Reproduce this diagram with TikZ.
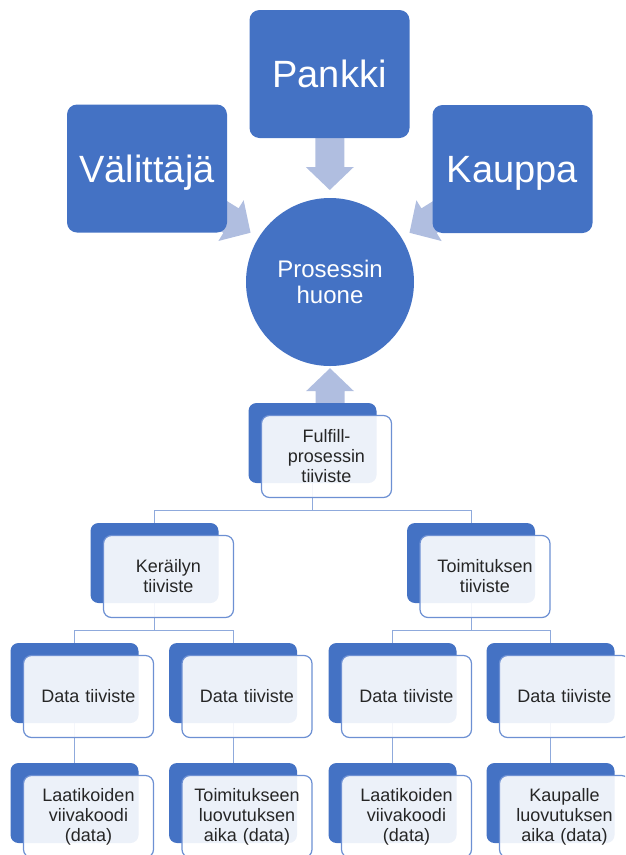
\documentclass[tikz,border=0pt]{standalone}
\usepackage{fontspec}
\setmainfont{Liberation Sans}
\usetikzlibrary{calc}
\pgfdeclarelayer{background}
\pgfsetlayers{background,main}
\definecolor{accent}{RGB}{68,114,196}
\definecolor{arrowtint}{RGB}{176,190,224}
\definecolor{edgeblue}{RGB}{109,144,211}
\definecolor{linkblue}{RGB}{143,170,220}
\definecolor{inktext}{RGB}{38,38,38}
% a dark back card with a lighter, slightly see-through card offset on top of it
\newcommand\pairbox[3]{%
  \node[backbox] (#1B) at (#2) {};
  \node[frontbox] (#1F) at ([shift={(14,13.5)}]#1B.center) {#3};}
% a wide block arrow whose tip sits at #1, pointing in direction #2
\newcommand\blockarrow[2]{%
  \fill[arrowtint, shift={(#1)}, rotate=#2]
    (0,0) -- (-23,24) -- (-23,14.5) -- (-63,14.5) -- (-63,-14.5)
    -- (-23,-14.5) -- (-23,-24) -- cycle;}
\begin{document}
\begin{tikzpicture}[x=1pt,y=-1pt,
  backbox/.style={fill=accent, rounded corners=8pt, minimum width=128pt,
    minimum height=80pt, inner sep=0pt},
  frontbox/.style={draw=edgeblue, line width=1.2pt, fill=white,
    fill opacity=0.9, text opacity=1, rounded corners=8pt,
    minimum width=130pt, minimum height=82pt, inner sep=0pt,
    text width=124pt, align=center, text=inktext,
    font=\fontsize{18}{20}\selectfont},
  topbox/.style={fill=accent, rounded corners=10pt, minimum width=160pt,
    minimum height=128pt, inner sep=0pt, text=white,
    font=\fontsize{38}{44}\selectfont, text height=27pt, text depth=0pt},
  room/.style={circle, fill=accent, minimum size=168pt, inner sep=0pt,
    text=white, align=center, font=\fontsize{24}{26}\selectfont},
  conn/.style={draw=linkblue, line width=1pt}]
\path[use as bounding box] (0,0) rectangle (625,855);
\clip (0,0) rectangle (625,855);

% parties around the process room
\node[topbox] (va) at (147,168.5) {Välittäjä};
\node[topbox] (pk) at (329.5,74) {Pankki};
\node[topbox] (ka) at (512.5,169) {Kauppa};
\node[room] (hub) at (330,282) {Prosessin\\huone};

% hierarchy of seals
\pairbox{ful}{312.5,443}{Fulfill-\\prosessin\\tiiviste}
\pairbox{ker}{154.5,563}{Keräilyn\\tiiviste}
\pairbox{toi}{471,563}{Toimituksen\\tiiviste}
\pairbox{da}{74.5,683}{Data tiiviste}
\pairbox{db}{233,683}{Data tiiviste}
\pairbox{dc}{392.5,683}{Data tiiviste}
\pairbox{dd}{550.5,683}{Data tiiviste}
\pairbox{ea}{74.5,803}{Laatikoiden\\viivakoodi\\(data)}
\pairbox{eb}{233,803}{Toimitukseen\\luovutuksen\\aika (data)}
\pairbox{ec}{392.5,803}{Laatikoiden\\viivakoodi\\(data)}
\pairbox{ed}{550.5,803}{Kaupalle\\luovutuksen\\aika (data)}

\begin{pgfonlayer}{background}
  % block arrows into the process room
  \coordinate (tipL) at ($(hub.center)!93.5pt!(va.center)$);
  \coordinate (tipR) at ($(hub.center)!93.5pt!(ka.center)$);
  \coordinate (tipT) at ($(hub.center)!92pt!(pk.center)$);
  \coordinate (tipB) at ([yshift=-2pt]hub.south);
  \blockarrow{tipL}{-31.8}
  \blockarrow{tipR}{-148.2}
  \blockarrow{tipT}{-90}
  \blockarrow{tipB}{90}
  % tree connectors
  \draw[conn] (fulB.south) -- ++(0,27) -| (kerB.north);
  \draw[conn] (fulB.south) -- ++(0,27) -| (toiB.north);
  \draw[conn] (kerB.south) -- ++(0,27) -| (daB.north);
  \draw[conn] (kerB.south) -- ++(0,27) -| (dbB.north);
  \draw[conn] (toiB.south) -- ++(0,27) -| (dcB.north);
  \draw[conn] (toiB.south) -- ++(0,27) -| (ddB.north);
  \draw[conn] (daB.south) -- (eaB.north);
  \draw[conn] (dbB.south) -- (ebB.north);
  \draw[conn] (dcB.south) -- (ecB.north);
  \draw[conn] (ddB.south) -- (edB.north);
\end{pgfonlayer}
\end{tikzpicture}
\end{document}
